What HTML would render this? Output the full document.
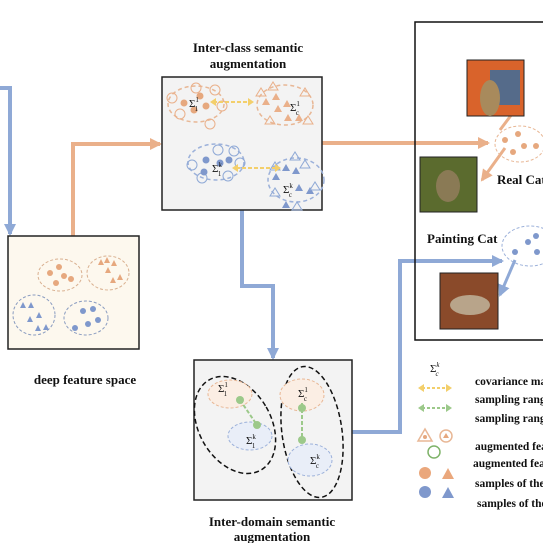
<!DOCTYPE html>
<html><head><meta charset="utf-8"><style>
html,body{margin:0;padding:0;background:#fff;}
svg{display:block;font-family:"Liberation Serif",serif;}
.t{font-weight:bold;font-size:13px;fill:#111;}
.l{font-weight:bold;font-size:11.5px;fill:#111;}
</style></head><body>
<svg width="543" height="543" viewBox="0 0 543 543">
<defs>
<marker id="ao" markerUnits="userSpaceOnUse" markerWidth="12" markerHeight="12" refX="10" refY="6" orient="auto"><path d="M0,0L12,6L0,12z" fill="#eab08a"/></marker>
<marker id="ab" markerUnits="userSpaceOnUse" markerWidth="12" markerHeight="12" refX="10" refY="6" orient="auto"><path d="M0,0L12,6L0,12z" fill="#8fa9d6"/></marker>
</defs>
<g fill="none" stroke-width="4">
<path d="M0,88H10V234" stroke="#8fa9d6" marker-end="url(#ab)"/>
<path d="M73,236V144H160" stroke="#eab08a" marker-end="url(#ao)"/>
<path d="M322,143H488" stroke="#eab08a" marker-end="url(#ao)"/>
<path d="M242,210V286H273V358" stroke="#8fa9d6" marker-end="url(#ab)"/>
<path d="M352,432H400V261H502" stroke="#8fa9d6" marker-end="url(#ab)"/>
<path d="M500,130L515,110" stroke="#eab08a" stroke-width="3"/>
<path d="M505,148L482,180" stroke="#eab08a" stroke-width="3" marker-end="url(#ao)"/>
<path d="M515,260L500,295" stroke="#8fa9d6" stroke-width="3" marker-end="url(#ab)"/>
</g>
<g>
<rect x="8" y="236" width="131" height="113" fill="#fdf8ee" stroke="#222" stroke-width="1.5"/>
<ellipse cx="60" cy="275" rx="22" ry="16" fill="none" stroke="#d9b090" stroke-dasharray="3,2"/>
<ellipse cx="108" cy="273" rx="21" ry="17" fill="none" stroke="#d9b090" stroke-dasharray="3,2"/>
<ellipse cx="34" cy="315" rx="21" ry="20" fill="none" stroke="#8a9cc0" stroke-dasharray="3,2"/>
<ellipse cx="86" cy="318" rx="22" ry="17" fill="none" stroke="#8a9cc0" stroke-dasharray="3,2"/>
<g fill="#e6a87e"><circle cx="50" cy="273" r="3"/><circle cx="59" cy="267" r="3"/><circle cx="64" cy="276" r="3"/><circle cx="71" cy="279" r="3"/><circle cx="56" cy="283" r="3"/>
<path d="M98,265l3,-6l3,6zM104,263l3,-6l3,6zM111,266l3,-6l3,6zM105,273l3,-6l3,6zM110,283l3,-6l3,6zM117,280l3,-6l3,6z"/></g>
<g fill="#7f98cc"><circle cx="83" cy="311" r="3"/><circle cx="93" cy="309" r="3"/><circle cx="98" cy="320" r="3"/><circle cx="88" cy="324" r="3"/><circle cx="75" cy="328" r="3"/>
<path d="M20,308l3,-6l3,6zM28,308l3,-6l3,6zM36,318l3,-6l3,6zM27,322l3,-6l3,6zM35,331l3,-6l3,6zM43,330l3,-6l3,6z"/></g>
</g>
<text class="t" x="85" y="384" text-anchor="middle">deep feature space</text>
<text class="t" x="248" y="52" text-anchor="middle">Inter-class semantic</text>
<text class="t" x="248" y="68" text-anchor="middle">augmentation</text>
<g>
<rect x="162" y="77" width="160" height="133" fill="#f3f3f3" stroke="#222" stroke-width="1.5"/>
<ellipse cx="196" cy="104" rx="28" ry="18" fill="none" stroke="#e8b795" stroke-width="1.5" stroke-dasharray="4,3"/>
<ellipse cx="285" cy="105" rx="28" ry="20" fill="none" stroke="#e8b795" stroke-width="1.5" stroke-dasharray="4,3"/>
<ellipse cx="216" cy="162" rx="28" ry="18" fill="none" stroke="#9cb1da" stroke-width="1.5" stroke-dasharray="4,3"/>
<ellipse cx="296" cy="180" rx="28" ry="22" fill="none" stroke="#9cb1da" stroke-width="1.5" stroke-dasharray="4,3"/>
<g fill="none" stroke="#eab08a"><circle cx="172" cy="98" r="5"/><circle cx="180" cy="114" r="5"/><circle cx="196" cy="88" r="5"/><circle cx="210" cy="124" r="5"/><circle cx="222" cy="106" r="5"/><circle cx="215" cy="90" r="5"/></g>
<g fill="#e6a87e"><circle cx="184" cy="103" r="3.5"/><circle cx="200" cy="96" r="3.5"/><circle cx="206" cy="106" r="3.5"/><circle cx="194" cy="110" r="3.5"/></g>
<g fill="#eab08a"><path d="M262,105l4,-7l4,7zM272,100l4,-7l4,7zM283,107l4,-7l4,7zM274,112l4,-7l4,7zM284,121l4,-7l4,7zM295,121l4,-7l4,7z"/></g>
<g fill="none" stroke="#eab08a"><path d="M256,96l5,-8l5,8zM268,90l5,-8l5,8zM300,96l5,-8l5,8zM303,124l5,-8l5,8zM265,124l5,-8l5,8z"/></g>
<g fill="none" stroke="#8fa9d6"><circle cx="192" cy="165" r="5"/><circle cx="202" cy="178" r="5"/><circle cx="218" cy="150" r="5"/><circle cx="234" cy="151" r="5"/><circle cx="228" cy="176" r="5"/><circle cx="240" cy="163" r="5"/></g>
<g fill="#7f98cc"><circle cx="206" cy="160" r="3.5"/><circle cx="220" cy="163" r="3.5"/><circle cx="229" cy="160" r="3.5"/><circle cx="204" cy="172" r="3.5"/></g>
<g fill="#7f98cc"><path d="M272,180l4,-7l4,7zM282,171l4,-7l4,7zM292,174l4,-7l4,7zM295,191l4,-7l4,7zM306,194l4,-7l4,7zM282,208l4,-7l4,7z"/></g>
<g fill="none" stroke="#8fa9d6"><path d="M270,170l5,-8l5,8zM290,160l5,-8l5,8zM300,168l5,-8l5,8zM310,190l5,-8l5,8zM270,196l5,-8l5,8zM292,210l5,-8l5,8z"/></g>
<path d="M213,102H250" stroke="#f3cf6b" stroke-width="2" stroke-dasharray="4,2" fill="none"/>
<path d="M210,102l6,-4v8z M254,102l-6,-4v8z" fill="#f3cf6b"/>
<path d="M236,168H277" stroke="#f3cf6b" stroke-width="2" stroke-dasharray="4,2" fill="none"/>
<path d="M232,168l6,-4v8z M281,168l-6,-4v8z" fill="#f3cf6b"/>
<g font-size="11" fill="#111"><text x="189" y="107">Σ<tspan font-size="7" dy="-5">1</tspan><tspan font-size="7" dx="-4" dy="9">1</tspan></text>
<text x="290" y="111">Σ<tspan font-size="7" dy="-5">1</tspan><tspan font-size="7" dx="-4" dy="9">c</tspan></text>
<text x="212" y="172">Σ<tspan font-size="7" dy="-5">k</tspan><tspan font-size="7" dx="-4" dy="9">1</tspan></text>
<text x="283" y="193">Σ<tspan font-size="7" dy="-5">k</tspan><tspan font-size="7" dx="-4" dy="9">c</tspan></text></g>
</g>
<g>
<rect x="194" y="360" width="158" height="140" fill="#f3f3f3" stroke="#222" stroke-width="1.5"/>
<ellipse cx="235" cy="425" rx="36" ry="52" transform="rotate(-30 235 425)" fill="none" stroke="#111" stroke-width="1.5" stroke-dasharray="5,3"/>
<ellipse cx="312" cy="432" rx="30" ry="66" transform="rotate(-8 312 432)" fill="none" stroke="#111" stroke-width="1.5" stroke-dasharray="5,3"/>
<ellipse cx="230" cy="394" rx="22" ry="14" fill="#fbeee4" stroke="#e8b795" stroke-dasharray="3,2"/>
<ellipse cx="250" cy="436" rx="22" ry="14" fill="#e9eef8" stroke="#9cb1da" stroke-dasharray="3,2"/>
<ellipse cx="302" cy="395" rx="22" ry="16" fill="#fbeee4" stroke="#e8b795" stroke-dasharray="3,2"/>
<ellipse cx="310" cy="460" rx="22" ry="16" fill="#e9eef8" stroke="#9cb1da" stroke-dasharray="3,2"/>
<path d="M240,400L257,425M302,403V440" stroke="#9cc98a" stroke-width="2" stroke-dasharray="4,2"/>
<g fill="#9cc98a"><circle cx="240" cy="400" r="4"/><circle cx="257" cy="425" r="4"/><circle cx="302" cy="408" r="4"/><circle cx="302" cy="440" r="4"/></g>
<g font-size="11" fill="#111"><text x="218" y="392">Σ<tspan font-size="7" dy="-5">1</tspan><tspan font-size="7" dx="-4" dy="9">1</tspan></text>
<text x="246" y="444">Σ<tspan font-size="7" dy="-5">k</tspan><tspan font-size="7" dx="-4" dy="9">1</tspan></text>
<text x="298" y="397">Σ<tspan font-size="7" dy="-5">1</tspan><tspan font-size="7" dx="-4" dy="9">c</tspan></text>
<text x="310" y="464">Σ<tspan font-size="7" dy="-5">k</tspan><tspan font-size="7" dx="-4" dy="9">c</tspan></text></g>
</g>
<text class="t" x="272" y="526" text-anchor="middle">Inter-domain semantic</text>
<text class="t" x="272" y="541" text-anchor="middle">augmentation</text>
<g>
<rect x="415" y="22" width="140" height="318" fill="none" stroke="#111" stroke-width="1.5"/>
<rect x="467" y="60" width="57" height="56" fill="#d9632b" stroke="#222"/>
<rect x="490" y="70" width="30" height="35" fill="#556b8a"/>
<ellipse cx="490" cy="98" rx="10" ry="18" fill="#a88a5c"/>
<rect x="420" y="157" width="57" height="55" fill="#5b6b2e" stroke="#222"/>
<ellipse cx="448" cy="186" rx="12" ry="16" fill="#8a7a55"/>
<rect x="440" y="273" width="58" height="56" fill="#8a4a2a" stroke="#222"/>
<ellipse cx="470" cy="305" rx="20" ry="10" fill="#b8a48a"/>
<ellipse cx="520" cy="144" rx="25" ry="18" fill="none" stroke="#e8b795" stroke-dasharray="3,2"/>
<g fill="#e6a87e"><circle cx="505" cy="140" r="3"/><circle cx="518" cy="134" r="3"/><circle cx="524" cy="146" r="3"/><circle cx="536" cy="146" r="3"/><circle cx="513" cy="152" r="3"/></g>
<ellipse cx="530" cy="246" rx="28" ry="20" fill="none" stroke="#9cb1da" stroke-dasharray="3,2"/>
<g fill="#7f98cc"><circle cx="515" cy="252" r="3"/><circle cx="528" cy="242" r="3"/><circle cx="536" cy="236" r="3"/><circle cx="537" cy="252" r="3"/></g>
<text class="t" x="497" y="184">Real Cat</text>
<text class="t" x="427" y="243">Painting Cat</text>
</g>
<g>
<text x="430" y="372" font-size="11" fill="#111">Σ<tspan font-size="7" dy="-5" font-style="italic">k</tspan><tspan font-size="7" dx="-4" dy="9" font-style="italic">c</tspan></text>
<path d="M422,388H448" stroke="#f3cf6b" stroke-width="2" stroke-dasharray="3,2"/><path d="M418,388l6,-4v8zM452,388l-6,-4v8z" fill="#f3cf6b"/>
<path d="M422,408H448" stroke="#9cc98a" stroke-width="2" stroke-dasharray="3,2"/><path d="M418,408l6,-4v8zM452,408l-6,-4v8z" fill="#9cc98a"/>
<path d="M418,441l7,-12l7,12z" fill="none" stroke="#e8b795" stroke-width="1.5"/><circle cx="425" cy="437" r="2" fill="#e6a87e"/>
<circle cx="446" cy="436" r="6" fill="none" stroke="#e8b795" stroke-width="1.5"/><path d="M443,438l3,-5l3,5z" fill="#e6a87e"/>
<circle cx="434" cy="452" r="6" fill="none" stroke="#7fb36a" stroke-width="1.5"/>
<circle cx="425" cy="473" r="6" fill="#eaa77c"/><path d="M442,479l6,-11l6,11z" fill="#eaa77c"/>
<circle cx="425" cy="492" r="6" fill="#7f98cc"/><path d="M442,498l6,-11l6,11z" fill="#7f98cc"/>
<text class="l" x="475" y="385">covariance matrix</text>
<text class="l" x="475" y="403">sampling range</text>
<text class="l" x="475" y="422">sampling range</text>
<text class="l" x="475" y="450">augmented features</text>
<text class="l" x="473" y="467">augmented features</text>
<text class="l" x="475" y="487">samples of the</text>
<text class="l" x="477" y="507">samples of the</text>
</g>
</svg>
</body></html>
